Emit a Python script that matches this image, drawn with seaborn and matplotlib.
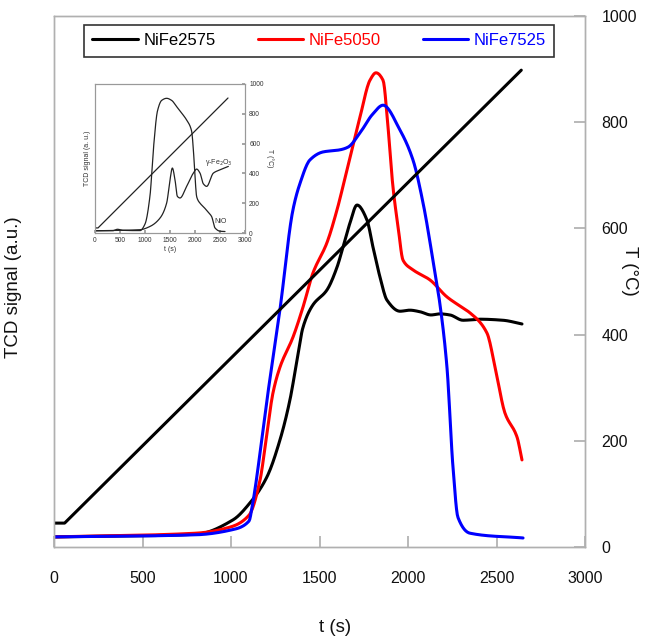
import numpy as np
import pandas as pd
import matplotlib
matplotlib.use("Agg")
import matplotlib.pyplot as plt
import seaborn as sns

sns.set_theme(style="white")
plt.rcParams['font.family'] = ['Liberation Sans', 'DejaVu Sans']

# ---------------- data ----------------
t_2575 = [0, 802, 1011, 1107, 1203, 1277, 1333, 1373, 1407, 1463, 1542, 1599, 1633, 1672, 1712,
          1768, 1802, 1842, 1881, 1955, 2010, 2068, 2130, 2181, 2237, 2311, 2407, 2537, 2644]
s_2575 = [19, 24, 51, 83, 132, 202, 277, 352, 414, 456, 484, 527, 565, 610, 644,
          616, 565, 508, 465, 444, 446, 443, 437, 439, 437, 427, 429, 427, 420]

t_5050 = [0, 802, 1000, 1102, 1164, 1203, 1237, 1277, 1350, 1407, 1463, 1542, 1599, 1655, 1729,
          1785, 1819, 1859, 1887, 1915, 1944, 1972, 2028, 2124, 2220, 2311, 2350, 2446, 2492,
          2548, 2616, 2644]
s_5050 = [19, 26, 38, 60, 126, 215, 290, 339, 395, 452, 516, 573, 635, 710, 810,
          879, 893, 879, 791, 678, 603, 540, 522, 503, 471, 450, 441, 403, 339,
          252, 207, 164]

t_7525 = [0, 802, 1000, 1102, 1119, 1203, 1277, 1350, 1390, 1446, 1520, 1616, 1661, 1729, 1800,
          1859, 1955, 2028, 2085, 2141, 2181, 2220, 2254, 2282, 2350, 2650]
s_7525 = [19, 23, 32, 49, 75, 277, 448, 635, 685, 729, 744, 748, 753, 780, 815,
          832, 785, 729, 648, 540, 456, 339, 151, 56, 26, 17]

t_temp = [0, 60, 2640]
T_temp = [45, 45, 898]

# inset data
in_t_nio = [0, 350, 450, 550, 900, 1000, 1100, 1167, 1250, 1333, 1433, 1533, 1633, 1733, 1833,
            1933, 1967, 2000, 2033, 2100, 2167, 2250, 2333, 2400, 2500, 2600]
in_s_nio = [15, 15, 25, 18, 16, 60, 250, 560, 820, 890, 904, 890, 848, 805, 758,
            683, 560, 380, 244, 200, 177, 145, 110, 34, 12, 10]
in_t_fe = [0, 900, 1100, 1300, 1433, 1500, 1547, 1600, 1647, 1700, 1833, 1967, 2033, 2100,
           2167, 2233, 2367, 2500, 2667]
in_s_fe = [15, 22, 44, 100, 201, 357, 436, 357, 246, 235, 313, 402, 429, 402,
           330, 313, 402, 424, 447]
in_t_temp = [0, 60, 2660]
in_T_temp = [34, 34, 906]

x_ticks = [0, 500, 1000, 1500, 2000, 2500, 3000]
T_ticks = [0, 200, 400, 600, 800, 1000]

series = [("NiFe2575", t_2575, s_2575, "#000000"),
          ("NiFe5050", t_5050, s_5050, "#ff0000"),
          ("NiFe7525", t_7525, s_7525, "#0000ff")]


def smooth(t, s, n=600):
    t = np.asarray(t, float)
    s = np.asarray(s, float)
    tt = np.linspace(t[0], t[-1], n)
    d = np.diff(s) / np.diff(t)
    m = np.zeros_like(s)
    m[0], m[-1] = d[0], d[-1]
    for i in range(1, len(s) - 1):
        if d[i - 1] * d[i] <= 0:
            m[i] = 0
        else:
            w1 = 2 * (t[i + 1] - t[i]) + (t[i] - t[i - 1])
            w2 = (t[i + 1] - t[i]) + 2 * (t[i] - t[i - 1])
            m[i] = (w1 + w2) / (w1 / d[i - 1] + w2 / d[i])
    idx = np.clip(np.searchsorted(t, tt) - 1, 0, len(t) - 2)
    h = t[idx + 1] - t[idx]
    u = (tt - t[idx]) / h
    h00 = 2 * u**3 - 3 * u**2 + 1
    h10 = u**3 - 2 * u**2 + u
    h01 = -2 * u**3 + 3 * u**2
    h11 = u**3 - u**2
    ss = h00 * s[idx] + h10 * h * m[idx] + h01 * s[idx + 1] + h11 * h * m[idx + 1]
    return tt, ss


fig = plt.figure(figsize=(6.57, 6.37), dpi=100)
ax = fig.add_axes([54 / 657, 1 - 547 / 637, (585 - 54) / 657, (547 - 16) / 637])
ax2 = ax.twinx()

spine_col = "#b0b0b0"
for name, t, s, c in series:
    tt, ss = smooth(t, s)
    df = pd.DataFrame({"t": tt, "s": ss})
    sns.lineplot(data=df, x="t", y="s", ax=ax, color=c, linewidth=2.2, sort=False,
                 label=name, legend=False)
handles = ax.get_lines()

dft = pd.DataFrame({"t": t_temp, "T": T_temp})
sns.lineplot(data=dft, x="t", y="T", ax=ax2, color="black", linewidth=2.2, sort=False, legend=False)

ax.set_xlim(0, 3000)
ax.set_ylim(0, 1000)
ax2.set_ylim(0, 1000)
ax.set_xticks(x_ticks)
ax.set_xticklabels([str(v) for v in x_ticks])
ax.set_yticks([])
ax2.set_yticks(T_ticks)
ax2.set_yticklabels([str(v) for v in T_ticks])

for a in (ax, ax2):
    for sp in a.spines.values():
        sp.set_color(spine_col)
        sp.set_linewidth(1.0)

ax.tick_params(axis="x", direction="in", length=8, color=spine_col, pad=17,
               labelsize=11.5, labelcolor="#111111", bottom=True)
ax2.tick_params(axis="y", direction="in", length=8, color=spine_col, pad=12,
                labelsize=11.5, labelcolor="#111111", right=True)

ax.set_xlabel("t (s)", fontsize=13.5, color="#111111")
ax.xaxis.set_label_coords(0.53, -0.135)
ax.set_ylabel("TCD signal (a.u.)", fontsize=13.5, color="#111111")
ax.yaxis.set_label_coords(-0.06, 0.49)
ax2.set_ylabel("T (°C)", fontsize=13.5, color="#111111", rotation=270)
ax2.yaxis.set_label_coords(1.1, 0.52)

leg = ax.legend(handles=handles, labels=[s[0] for s in series], ncol=3,
                loc="upper left",
                bbox_to_anchor=(30 / 531, 1 - 46 / 531, 470 / 531, 37 / 531),
                mode="expand", frameon=True, fancybox=False, fontsize=12,
                handlelength=2.75, handletextpad=0.3, borderaxespad=0, borderpad=0.5)
leg.get_frame().set_edgecolor("black")
leg.get_frame().set_linewidth(1.2)
for txt, (_, _, _, c) in zip(leg.get_texts(), series):
    txt.set_color(c)

# ---------------- inset ----------------
axi = fig.add_axes([95 / 657, 1 - 233 / 637, 150 / 657, 149 / 637])
axi2 = axi.twinx()
ic = "#222222"
for t, s in ((in_t_nio, in_s_nio), (in_t_fe, in_s_fe)):
    tt, ss = smooth(t, s)
    sns.lineplot(x=tt, y=ss, ax=axi, color=ic, linewidth=0.9, sort=False, legend=False)
sns.lineplot(x=in_t_temp, y=in_T_temp, ax=axi2, color=ic, linewidth=0.9, sort=False, legend=False)
axi.set_xlim(0, 3000)
axi.set_ylim(0, 1000)
axi2.set_ylim(0, 1000)
axi.set_xticks(x_ticks)
axi.set_xticklabels([str(v) for v in x_ticks])
axi.set_yticks([])
axi2.set_yticks(T_ticks)
axi2.set_yticklabels([str(v) for v in T_ticks])
for a in (axi, axi2):
    for sp in a.spines.values():
        sp.set_color("#999999")
        sp.set_linewidth(0.8)
axi.tick_params(axis="x", direction="in", length=2, color="#999999", pad=3, labelsize=4.8,
                labelcolor="#333333", bottom=True)
axi2.tick_params(axis="y", direction="in", length=2.5, color="#999999", pad=3, labelsize=4.8,
                 labelcolor="#333333", right=True)
axi.set_xlabel("t (s)", fontsize=5, color="#333333", labelpad=1)
axi.set_ylabel("TCD signal (a. u.)", fontsize=5, color="#333333", labelpad=3)
axi2.set_ylabel("T (°C)", fontsize=5, color="#333333", rotation=270, labelpad=7)
axi.text(2480, 470, "γ-Fe$_2$O$_3$", fontsize=5, color="#333333", ha="center", va="center")
axi.text(2520, 75, "NiO", fontsize=5, color="#333333", ha="center", va="center")

fig.savefig("out.png", dpi=100)
